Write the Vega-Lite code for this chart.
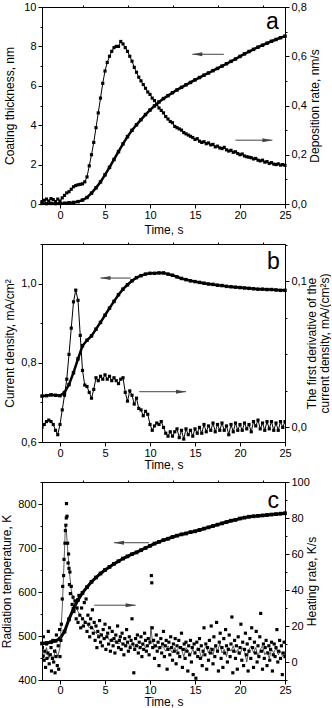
{
  "$schema": "https://vega.github.io/schema/vega-lite/v6.json",
  "padding": 0,
  "autosize": {"type": "pad"},
  "bounds": "flush",
  "spacing": 40,
  "config": {
    "locale": {"number": {"decimal": ",", "thousands": ".", "grouping": [3], "currency": ["", ""]}},
    "font": "Liberation Sans",
    "view": {"stroke": "black", "strokeWidth": 1},
    "axis": {
      "grid": false, "domainColor": "black", "tickColor": "black", "labelColor": "black", "titleColor": "black",
      "labelFont": "Liberation Sans", "titleFont": "Liberation Sans", "labelFontSize": 11, "titleFontSize": 12,
      "titleFontWeight": "normal", "labelFlush": false, "labelOverlap": false, "labelBound": false, "labelPadding": 2, "tickSize": 4, "titlePadding": 3, "titleLineHeight": 12.5
    }
  },
  "datasets": {
    "thickA": [
      {"t":-2,"v":0.03},{"t":-1.5,"v":0.02},{"t":-1,"v":0.03},{"t":-0.5,"v":0.02},{"t":0,"v":0.03},{"t":0.5,"v":0.04},{"t":1,"v":0.06},{"t":1.5,"v":0.08},{"t":2,"v":0.12},{"t":2.5,"v":0.2},{"t":3,"v":0.33},{"t":3.5,"v":0.55},{"t":4,"v":0.82},{"t":4.5,"v":1.12},{"t":5,"v":1.48},{"t":5.5,"v":1.86},{"t":6,"v":2.26},{"t":6.5,"v":2.66},{"t":7,"v":3.05},{"t":7.5,"v":3.42},{"t":8,"v":3.74},{"t":8.5,"v":4.02},{"t":9,"v":4.28},{"t":9.5,"v":4.54},{"t":10,"v":4.77},{"t":10.5,"v":4.98},{"t":11,"v":5.18},{"t":11.5,"v":5.35},{"t":12,"v":5.5},{"t":12.5,"v":5.65},{"t":13,"v":5.79},{"t":13.5,"v":5.92},{"t":14,"v":6.05},{"t":14.5,"v":6.17},{"t":15,"v":6.3},{"t":15.5,"v":6.42},{"t":16,"v":6.54},{"t":16.5,"v":6.65},{"t":17,"v":6.77},{"t":17.5,"v":6.88},{"t":18,"v":7.0},{"t":18.5,"v":7.12},{"t":19,"v":7.24},{"t":19.5,"v":7.36},{"t":20,"v":7.49},{"t":20.5,"v":7.62},{"t":21,"v":7.74},{"t":21.5,"v":7.85},{"t":22,"v":7.96},{"t":22.5,"v":8.06},{"t":23,"v":8.16},{"t":23.5,"v":8.26},{"t":24,"v":8.35},{"t":24.5,"v":8.44},{"t":25,"v":8.52}
    ],
    "rateA": [
      {"t":-2,"v":0.01},{"t":-1.75,"v":0.015},{"t":-1.5,"v":0.02},{"t":-1.25,"v":0.012},{"t":-1,"v":0.022},{"t":-0.75,"v":0.018},{"t":-0.5,"v":0.01},{"t":-0.25,"v":0.02},{"t":0,"v":0.012},{"t":0.25,"v":0.025},{"t":0.5,"v":0.035},{"t":0.75,"v":0.045},{"t":1,"v":0.05},{"t":1.25,"v":0.06},{"t":1.5,"v":0.07},{"t":1.75,"v":0.075},{"t":2,"v":0.078},{"t":2.25,"v":0.08},{"t":2.5,"v":0.082},{"t":2.75,"v":0.09},{"t":3,"v":0.11},{"t":3.25,"v":0.155},{"t":3.5,"v":0.2},{"t":3.75,"v":0.25},{"t":4,"v":0.31},{"t":4.25,"v":0.37},{"t":4.5,"v":0.43},{"t":4.75,"v":0.49},{"t":5,"v":0.54},{"t":5.25,"v":0.575},{"t":5.5,"v":0.6},{"t":5.75,"v":0.62},{"t":6,"v":0.635},{"t":6.25,"v":0.64},{"t":6.5,"v":0.64},{"t":6.75,"v":0.66},{"t":7,"v":0.65},{"t":7.25,"v":0.635},{"t":7.5,"v":0.62},{"t":7.75,"v":0.6},{"t":8,"v":0.58},{"t":8.25,"v":0.555},{"t":8.5,"v":0.535},{"t":8.75,"v":0.515},{"t":9,"v":0.5},{"t":9.25,"v":0.485},{"t":9.5,"v":0.47},{"t":9.75,"v":0.455},{"t":10,"v":0.445},{"t":10.25,"v":0.43},{"t":10.5,"v":0.42},{"t":10.75,"v":0.405},{"t":11,"v":0.39},{"t":11.25,"v":0.38},{"t":11.5,"v":0.37},{"t":11.75,"v":0.355},{"t":12,"v":0.345},{"t":12.25,"v":0.335},{"t":12.5,"v":0.33},{"t":12.75,"v":0.315},{"t":13,"v":0.31},{"t":13.25,"v":0.305},{"t":13.5,"v":0.3},{"t":13.75,"v":0.29},{"t":14,"v":0.285},{"t":14.25,"v":0.28},{"t":14.5,"v":0.275},{"t":14.75,"v":0.27},{"t":15,"v":0.262},{"t":15.25,"v":0.265},{"t":15.5,"v":0.255},{"t":15.75,"v":0.25},{"t":16,"v":0.253},{"t":16.25,"v":0.245},{"t":16.5,"v":0.248},{"t":16.75,"v":0.24},{"t":17,"v":0.242},{"t":17.25,"v":0.232},{"t":17.5,"v":0.235},{"t":17.75,"v":0.228},{"t":18,"v":0.225},{"t":18.25,"v":0.23},{"t":18.5,"v":0.22},{"t":18.75,"v":0.215},{"t":19,"v":0.218},{"t":19.25,"v":0.21},{"t":19.5,"v":0.212},{"t":19.75,"v":0.205},{"t":20,"v":0.2},{"t":20.25,"v":0.203},{"t":20.5,"v":0.195},{"t":20.75,"v":0.192},{"t":21,"v":0.19},{"t":21.25,"v":0.188},{"t":21.5,"v":0.183},{"t":21.75,"v":0.185},{"t":22,"v":0.178},{"t":22.25,"v":0.175},{"t":22.5,"v":0.178},{"t":22.75,"v":0.17},{"t":23,"v":0.172},{"t":23.25,"v":0.165},{"t":23.5,"v":0.168},{"t":23.75,"v":0.162},{"t":24,"v":0.16},{"t":24.25,"v":0.163},{"t":24.5,"v":0.158},{"t":24.75,"v":0.16},{"t":25,"v":0.157}
    ],
    "arrA": [{"t":14.7,"t2":18.2,"v":7.6,"h":14.7,"dir":"L"},{"t":19.5,"t2":23.6,"v":3.24,"h":23.6,"dir":"R"}],
    "labA": [{"t":23.6,"v":9.24,"lab":"a"}],
    "cdB": [
      {"t":-2,"v":0.716},{"t":-1.5,"v":0.717},{"t":-1,"v":0.719},{"t":-0.5,"v":0.718},{"t":0,"v":0.717},{"t":0.5,"v":0.725},{"t":1,"v":0.745},{"t":1.5,"v":0.775},{"t":2,"v":0.81},{"t":2.5,"v":0.843},{"t":3,"v":0.857},{"t":3.5,"v":0.868},{"t":4,"v":0.885},{"t":4.5,"v":0.902},{"t":5,"v":0.92},{"t":5.5,"v":0.938},{"t":6,"v":0.955},{"t":6.5,"v":0.972},{"t":7,"v":0.986},{"t":7.5,"v":0.997},{"t":8,"v":1.007},{"t":8.5,"v":1.015},{"t":9,"v":1.02},{"t":9.5,"v":1.024},{"t":10,"v":1.026},{"t":10.5,"v":1.026},{"t":11,"v":1.027},{"t":11.5,"v":1.027},{"t":12,"v":1.024},{"t":12.5,"v":1.021},{"t":13,"v":1.017},{"t":13.5,"v":1.013},{"t":14,"v":1.01},{"t":14.5,"v":1.007},{"t":15,"v":1.005},{"t":15.5,"v":1.003},{"t":16,"v":1.001},{"t":16.5,"v":0.999},{"t":17,"v":0.998},{"t":17.5,"v":0.996},{"t":18,"v":0.995},{"t":18.5,"v":0.993},{"t":19,"v":0.992},{"t":19.5,"v":0.991},{"t":20,"v":0.99},{"t":20.5,"v":0.989},{"t":21,"v":0.988},{"t":21.5,"v":0.987},{"t":22,"v":0.986},{"t":22.5,"v":0.986},{"t":23,"v":0.985},{"t":23.5,"v":0.985},{"t":24,"v":0.984},{"t":24.5,"v":0.983},{"t":25,"v":0.983}
    ],
    "derB": [
      {"t":-2,"v":0.0},{"t":-1.75,"v":0.002},{"t":-1.5,"v":0.004},{"t":-1.25,"v":0.005},{"t":-1,"v":0.004},{"t":-0.75,"v":0.002},{"t":-0.5,"v":-0.002},{"t":-0.25,"v":-0.005},{"t":0,"v":0.002},{"t":0.25,"v":0.012},{"t":0.5,"v":0.022},{"t":0.75,"v":0.033},{"t":1,"v":0.05},{"t":1.25,"v":0.068},{"t":1.5,"v":0.086},{"t":1.75,"v":0.094},{"t":2,"v":0.087},{"t":2.25,"v":0.063},{"t":2.5,"v":0.039},{"t":2.75,"v":0.029},{"t":3,"v":0.028},{"t":3.25,"v":0.024},{"t":3.5,"v":0.02},{"t":3.75,"v":0.026},{"t":4,"v":0.034},{"t":4.25,"v":0.032},{"t":4.5,"v":0.035},{"t":4.75,"v":0.033},{"t":5,"v":0.036},{"t":5.25,"v":0.033},{"t":5.5,"v":0.035},{"t":5.75,"v":0.032},{"t":6,"v":0.034},{"t":6.25,"v":0.032},{"t":6.5,"v":0.03},{"t":6.75,"v":0.033},{"t":7,"v":0.034},{"t":7.25,"v":0.024},{"t":7.5,"v":0.018},{"t":7.75,"v":0.025},{"t":8,"v":0.022},{"t":8.25,"v":0.016},{"t":8.5,"v":0.02},{"t":8.75,"v":0.013},{"t":9,"v":0.012},{"t":9.25,"v":0.008},{"t":9.5,"v":0.011},{"t":9.75,"v":0.009},{"t":10,"v":0.002},{"t":10.25,"v":-0.002},{"t":10.5,"v":0.001},{"t":10.75,"v":0.003},{"t":11,"v":0.002},{"t":11.25,"v":0.004},{"t":11.5,"v":0.0},{"t":11.75,"v":-0.004},{"t":12,"v":-0.006},{"t":12.25,"v":-0.003},{"t":12.5,"v":-0.006},{"t":12.75,"v":-0.003},{"t":13,"v":-0.001},{"t":13.25,"v":-0.007},{"t":13.5,"v":-0.002},{"t":13.75,"v":-0.008},{"t":14,"v":-0.001},{"t":14.25,"v":-0.005},{"t":14.5,"v":-0.002},{"t":14.75,"v":-0.006},{"t":15,"v":-0.001},{"t":15.25,"v":-0.004},{"t":15.5,"v":0.0},{"t":15.75,"v":-0.004},{"t":16,"v":0.002},{"t":16.25,"v":-0.003},{"t":16.5,"v":0.001},{"t":16.75,"v":-0.002},{"t":17,"v":0.003},{"t":17.25,"v":-0.003},{"t":17.5,"v":0.002},{"t":17.75,"v":-0.002},{"t":18,"v":0.003},{"t":18.25,"v":-0.002},{"t":18.5,"v":0.001},{"t":18.75,"v":-0.005},{"t":19,"v":0.002},{"t":19.25,"v":-0.003},{"t":19.5,"v":0.003},{"t":19.75,"v":-0.002},{"t":20,"v":0.002},{"t":20.25,"v":-0.002},{"t":20.5,"v":0.003},{"t":20.75,"v":-0.001},{"t":21,"v":0.002},{"t":21.25,"v":-0.003},{"t":21.5,"v":0.004},{"t":21.75,"v":0.001},{"t":22,"v":0.005},{"t":22.25,"v":-0.001},{"t":22.5,"v":0.003},{"t":22.75,"v":-0.002},{"t":23,"v":0.004},{"t":23.25,"v":-0.001},{"t":23.5,"v":0.004},{"t":23.75,"v":-0.002},{"t":24,"v":0.003},{"t":24.25,"v":-0.002},{"t":24.5,"v":0.004},{"t":24.75,"v":0.0},{"t":25,"v":0.004}
    ],
    "arrB": [{"t":4.5,"t2":7.85,"v":1.014,"h":4.5,"dir":"L"},{"t":8.8,"t2":14,"v":0.727,"h":14,"dir":"R"}],
    "labB": [{"t":23.7,"v":1.054,"lab":"b"}],
    "tempC": [
      {"t":-2,"v":483},{"t":-1.5,"v":484},{"t":-1,"v":486},{"t":-0.5,"v":489},{"t":0,"v":494},{"t":0.5,"v":510},{"t":1,"v":538},{"t":1.5,"v":562},{"t":2,"v":582},{"t":2.5,"v":598},{"t":3,"v":611},{"t":3.5,"v":623},{"t":4,"v":633},{"t":4.5,"v":642},{"t":5,"v":650},{"t":5.5,"v":657},{"t":6,"v":664},{"t":6.5,"v":670},{"t":7,"v":676},{"t":7.5,"v":681},{"t":8,"v":686},{"t":8.5,"v":690},{"t":9,"v":695},{"t":9.5,"v":700},{"t":10,"v":705},{"t":10.5,"v":710},{"t":11,"v":714},{"t":11.5,"v":718},{"t":12,"v":721},{"t":12.5,"v":725},{"t":13,"v":728},{"t":13.5,"v":731},{"t":14,"v":733},{"t":14.5,"v":736},{"t":15,"v":738},{"t":15.5,"v":741},{"t":16,"v":744},{"t":16.5,"v":747},{"t":17,"v":750},{"t":17.5,"v":753},{"t":18,"v":756},{"t":18.5,"v":759},{"t":19,"v":762},{"t":19.5,"v":764},{"t":20,"v":767},{"t":20.5,"v":769},{"t":21,"v":771},{"t":21.5,"v":772},{"t":22,"v":773},{"t":22.5,"v":774},{"t":23,"v":775},{"t":23.5,"v":776},{"t":24,"v":777},{"t":24.5,"v":778},{"t":25,"v":779}
    ],
    "hrPtsC": [
      {"t":-1.95,"v":8},{"t":-1.9,"v":3},{"t":-1.85,"v":14},{"t":-1.75,"v":1},{"t":-1.7,"v":6},{"t":-1.6,"v":-3},{"t":-1.5,"v":10},{"t":-1.45,"v":2},{"t":-1.35,"v":5},{"t":-1.3,"v":17},{"t":-1.2,"v":-1},{"t":-1.1,"v":4},{"t":-1.0,"v":8},{"t":-0.95,"v":-5},{"t":-0.85,"v":2},{"t":-0.8,"v":12},{"t":-0.7,"v":0},{"t":-0.6,"v":6},{"t":-0.55,"v":-6},{"t":-0.45,"v":3},{"t":-0.4,"v":15},{"t":-0.3,"v":-2},{"t":-0.2,"v":9},{"t":-0.15,"v":-4},{"t":-0.05,"v":18},{"t":0.0,"v":3},
      {"t":0.1,"v":12},{"t":0.15,"v":21},{"t":0.25,"v":35},{"t":0.3,"v":42},{"t":0.4,"v":48},{"t":0.45,"v":57},{"t":0.55,"v":66},{"t":0.6,"v":73},{"t":0.65,"v":76},{"t":0.7,"v":80},{"t":0.72,"v":88},{"t":0.78,"v":81},{"t":0.85,"v":66},{"t":0.9,"v":55},{"t":0.95,"v":60},{"t":1.0,"v":52},{"t":1.05,"v":43},{"t":1.1,"v":50},{"t":1.15,"v":38},{"t":1.25,"v":42},{"t":1.35,"v":32},{"t":1.45,"v":36},{"t":1.55,"v":28},{"t":1.7,"v":34},{"t":1.8,"v":24},{"t":1.9,"v":30},{"t":2.0,"v":22},{"t":2.1,"v":37},{"t":2.2,"v":26},{"t":2.3,"v":19},{"t":2.4,"v":30},{"t":2.5,"v":24},{"t":2.6,"v":20},{"t":2.7,"v":33},{"t":2.8,"v":22},{"t":2.9,"v":35},{"t":3.0,"v":17},{"t":3.1,"v":26},{"t":3.2,"v":21},{"t":3.3,"v":14},{"t":3.4,"v":24},{"t":3.5,"v":19},{"t":3.6,"v":29},{"t":3.7,"v":16},{"t":3.8,"v":22},{"t":3.9,"v":12},{"t":4.0,"v":20},{"t":4.1,"v":8},{"t":4.2,"v":17},{"t":4.3,"v":14},{"t":4.4,"v":23},{"t":4.5,"v":11},{"t":4.6,"v":15},{"t":4.7,"v":9},{"t":4.8,"v":18},{"t":4.9,"v":13},{"t":5.0,"v":21},{"t":5.1,"v":7},{"t":5.2,"v":14},{"t":5.3,"v":16},{"t":5.4,"v":10},{"t":5.5,"v":19},{"t":5.6,"v":6},{"t":5.7,"v":12},{"t":5.8,"v":17},{"t":5.9,"v":9},{"t":6.0,"v":13},{"t":6.1,"v":5},{"t":6.2,"v":15},{"t":6.3,"v":11},{"t":6.4,"v":20},{"t":6.5,"v":8},{"t":6.6,"v":12},{"t":6.7,"v":14},{"t":6.8,"v":7},{"t":6.9,"v":16},{"t":7.0,"v":10},{"t":7.1,"v":4},{"t":7.2,"v":13},{"t":7.3,"v":9},{"t":7.4,"v":18},{"t":7.5,"v":11},{"t":7.6,"v":6},{"t":7.7,"v":14},{"t":7.8,"v":8},{"t":7.9,"v":12},{"t":8.0,"v":24},{"t":8.1,"v":10},{"t":8.2,"v":-6},{"t":8.3,"v":7},{"t":8.4,"v":13},{"t":8.5,"v":9},{"t":8.6,"v":15},{"t":8.7,"v":5},{"t":8.8,"v":11},{"t":8.9,"v":8},{"t":9.0,"v":14},{"t":9.1,"v":3},{"t":9.2,"v":10},{"t":9.3,"v":7},{"t":9.4,"v":16},{"t":9.5,"v":12},{"t":9.6,"v":6},{"t":9.7,"v":9},{"t":9.8,"v":13},{"t":9.9,"v":4},{"t":10.0,"v":11},{"t":10.15,"v":48},{"t":10.2,"v":44},{"t":10.25,"v":19},{"t":10.3,"v":8},{"t":10.4,"v":12},{"t":10.5,"v":2},{"t":10.6,"v":9},{"t":10.7,"v":15},{"t":10.8,"v":6},{"t":10.9,"v":11},{"t":11.0,"v":-2},{"t":11.1,"v":8},{"t":11.2,"v":13},{"t":11.3,"v":5},{"t":11.4,"v":10},{"t":11.5,"v":17},{"t":11.6,"v":3},{"t":11.7,"v":9},{"t":11.8,"v":12},{"t":11.9,"v":-4},{"t":12.0,"v":7},{"t":12.1,"v":11},{"t":12.2,"v":4},{"t":12.3,"v":14},{"t":12.4,"v":8},{"t":12.5,"v":1},{"t":12.6,"v":10},{"t":12.7,"v":6},{"t":12.8,"v":13},{"t":12.9,"v":-1},{"t":13.0,"v":9},{"t":13.1,"v":5},{"t":13.2,"v":12},{"t":13.3,"v":3},{"t":13.4,"v":8},{"t":13.5,"v":16},{"t":13.6,"v":-3},{"t":13.7,"v":7},{"t":13.8,"v":10},{"t":13.9,"v":2},{"t":14.0,"v":11},{"t":14.1,"v":6},{"t":14.2,"v":-5},{"t":14.3,"v":9},{"t":14.4,"v":4},{"t":14.5,"v":12},{"t":14.6,"v":0},{"t":14.7,"v":8},{"t":14.8,"v":-7},{"t":14.9,"v":10},{"t":15.0,"v":5},{"t":15.1,"v":-9},{"t":15.2,"v":11},{"t":15.3,"v":3},{"t":15.4,"v":7},{"t":15.5,"v":13},{"t":15.6,"v":2},{"t":15.7,"v":9},{"t":15.8,"v":-2},{"t":15.9,"v":6},{"t":16.0,"v":19},{"t":16.1,"v":4},{"t":16.2,"v":10},{"t":16.3,"v":-4},{"t":16.4,"v":8},{"t":16.5,"v":1},{"t":16.6,"v":12},{"t":16.7,"v":5},{"t":16.8,"v":20},{"t":16.9,"v":7},{"t":17.0,"v":-1},{"t":17.1,"v":14},{"t":17.2,"v":3},{"t":17.3,"v":9},{"t":17.4,"v":22},{"t":17.5,"v":6},{"t":17.6,"v":-5},{"t":17.7,"v":11},{"t":17.8,"v":16},{"t":17.9,"v":2},{"t":18.0,"v":8},{"t":18.1,"v":-3},{"t":18.2,"v":13},{"t":18.3,"v":5},{"t":18.4,"v":18},{"t":18.5,"v":9},{"t":18.6,"v":0},{"t":18.7,"v":7},{"t":18.8,"v":15},{"t":18.9,"v":3},{"t":19.0,"v":10},{"t":19.1,"v":25},{"t":19.2,"v":-6},{"t":19.3,"v":6},{"t":19.4,"v":12},{"t":19.5,"v":2},{"t":19.6,"v":9},{"t":19.7,"v":-4},{"t":19.8,"v":14},{"t":19.9,"v":5},{"t":20.0,"v":8},{"t":20.1,"v":21},{"t":20.2,"v":1},{"t":20.3,"v":11},{"t":20.4,"v":-2},{"t":20.5,"v":7},{"t":20.6,"v":16},{"t":20.7,"v":4},{"t":20.8,"v":10},{"t":20.9,"v":-5},{"t":21.0,"v":6},{"t":21.1,"v":13},{"t":21.2,"v":2},{"t":21.3,"v":19},{"t":21.4,"v":8},{"t":21.5,"v":-3},{"t":21.6,"v":11},{"t":21.7,"v":5},{"t":21.8,"v":17},{"t":21.9,"v":0},{"t":22.0,"v":9},{"t":22.1,"v":3},{"t":22.2,"v":14},{"t":22.3,"v":27},{"t":22.4,"v":6},{"t":22.5,"v":-4},{"t":22.6,"v":10},{"t":22.7,"v":2},{"t":22.8,"v":8},{"t":22.9,"v":12},{"t":23.0,"v":-2},{"t":23.1,"v":5},{"t":23.2,"v":9},{"t":23.3,"v":1},{"t":23.4,"v":7},{"t":23.5,"v":11},{"t":23.6,"v":-5},{"t":23.7,"v":4},{"t":23.8,"v":10},{"t":23.9,"v":3},{"t":24.0,"v":8},{"t":24.1,"v":18},{"t":24.2,"v":0},{"t":24.3,"v":6},{"t":24.4,"v":12},{"t":24.5,"v":2},{"t":24.6,"v":9},{"t":24.7,"v":-7},{"t":24.8,"v":5},{"t":24.9,"v":11},{"t":25.0,"v":3}
    ],
    "hrLineC": [
      {"t":-2,"v":6},{"t":-1.75,"v":3},{"t":-1.5,"v":8},{"t":-1.25,"v":2},{"t":-1,"v":5},{"t":-0.75,"v":1},{"t":-0.5,"v":7},{"t":-0.25,"v":3},{"t":0,"v":8},{"t":0.25,"v":30},{"t":0.5,"v":62},{"t":0.6,"v":76},{"t":0.75,"v":70},{"t":1,"v":52},{"t":1.25,"v":40},{"t":1.5,"v":34},{"t":1.75,"v":31},{"t":2,"v":28},{"t":2.25,"v":26},{"t":2.5,"v":24},{"t":2.75,"v":23},{"t":3,"v":21},{"t":3.25,"v":19},{"t":3.5,"v":20},{"t":3.75,"v":18},{"t":4,"v":16},{"t":4.25,"v":15},{"t":4.5,"v":16},{"t":4.75,"v":14},{"t":5,"v":13},{"t":5.25,"v":14},{"t":5.5,"v":12},{"t":5.75,"v":13},{"t":6,"v":11},{"t":6.25,"v":12},{"t":6.5,"v":10},{"t":6.75,"v":11},{"t":7,"v":10},{"t":7.25,"v":9},{"t":7.5,"v":11},{"t":7.75,"v":9},{"t":8,"v":10},{"t":8.25,"v":8},{"t":8.5,"v":10},{"t":8.75,"v":9},{"t":9,"v":8},{"t":9.25,"v":10},{"t":9.5,"v":8},{"t":9.75,"v":9},{"t":10,"v":10},{"t":10.1,"v":20},{"t":10.25,"v":12},{"t":10.5,"v":8},{"t":10.75,"v":9},{"t":11,"v":7},{"t":11.25,"v":9},{"t":11.5,"v":8},{"t":11.75,"v":6},{"t":12,"v":9},{"t":12.25,"v":7},{"t":12.5,"v":5},{"t":12.75,"v":8},{"t":13,"v":6},{"t":13.25,"v":9},{"t":13.5,"v":7},{"t":13.75,"v":3},{"t":14,"v":8},{"t":14.25,"v":6},{"t":14.5,"v":4},{"t":14.75,"v":7},{"t":15,"v":5},{"t":15.25,"v":8},{"t":15.5,"v":6},{"t":15.75,"v":2},{"t":16,"v":7},{"t":16.25,"v":9},{"t":16.5,"v":5},{"t":16.75,"v":8},{"t":17,"v":4},{"t":17.25,"v":9},{"t":17.5,"v":6},{"t":17.75,"v":10},{"t":18,"v":5},{"t":18.25,"v":7},{"t":18.5,"v":3},{"t":18.75,"v":8},{"t":19,"v":6},{"t":19.25,"v":9},{"t":19.5,"v":5},{"t":19.75,"v":7},{"t":20,"v":4},{"t":20.25,"v":8},{"t":20.5,"v":6},{"t":20.75,"v":0},{"t":21,"v":7},{"t":21.25,"v":9},{"t":21.5,"v":5},{"t":21.75,"v":8},{"t":22,"v":3},{"t":22.25,"v":7},{"t":22.5,"v":9},{"t":22.75,"v":4},{"t":23,"v":6},{"t":23.25,"v":2},{"t":23.5,"v":7},{"t":23.75,"v":5},{"t":24,"v":8},{"t":24.25,"v":4},{"t":24.5,"v":6},{"t":24.75,"v":3},{"t":25,"v":5}
    ],
    "arrC": [{"t":6,"t2":9.9,"v":712,"h":6,"dir":"L"},{"t":3.8,"t2":8.4,"v":570,"h":8.4,"dir":"R"}],
    "labC": [{"t":23.7,"v":807,"lab":"c"}]
  },
  "vconcat": [
    {
      "width": 243, "height": 197,
      "resolve": {"scale": {"y": "independent"}, "axis": {"x": "independent", "y": "independent"}},
      "layer": [
        {"resolve": {"axis": {"x": "independent", "y": "independent"}},
         "layer": [
          {"data": {"name": "thickA"},
           "mark": {"type": "line", "color": "black", "strokeWidth": 2.5, "point": {"shape": "square", "size": 12, "filled": true, "color": "black"}},
           "encoding": {
             "x": {"field": "t", "type": "quantitative", "scale": {"domain": [-2, 25], "nice": false, "zero": false},
                   "axis": {"title": "Time, s", "titlePadding": 4, "labelPadding": 1, "values": [0,5,10,15,20,25], "format": "d"}},
             "y": {"field": "v", "type": "quantitative", "scale": {"domain": [0, 10], "nice": false, "zero": false},
                   "axis": {"title": "Coating thickness, nm", "orient": "left", "titlePadding": 7, "values": [0,2,4,6,8,10], "format": "d"}}
           }},
          {"data": {"name": "arrA"}, "mark": {"type": "rule", "color": "#444", "strokeWidth": 1},
           "encoding": {"x": {"field": "t", "type": "quantitative", "axis": {"title": null, "labels": false, "domain": false, "tickSize": 2, "values": [2.5,7.5,12.5,17.5,22.5]}}, "x2": {"field": "t2"},
                        "y": {"field": "v", "type": "quantitative", "axis": {"title": null, "labels": false, "domain": false, "tickSize": 2, "orient": "left", "values": [1,3,5,7,9]}}}},
          {"data": {"name": "arrA"}, "mark": {"type": "point", "filled": true, "color": "#444", "opacity": 1, "size": 25},
           "encoding": {"x": {"field": "h", "type": "quantitative", "axis": null}, "y": {"field": "v", "type": "quantitative", "axis": null},
             "shape": {"field": "dir", "type": "nominal", "legend": null, "scale": {"domain": ["L", "R"], "range": ["M0,0L4,-0.8L4,0.8Z", "M0,0L-4,-0.8L-4,0.8Z"]}}}},
          {"data": {"name": "labA"}, "mark": {"type": "text", "fontSize": 23, "font": "Liberation Sans", "color": "black", "baseline": "middle", "align": "center"},
           "encoding": {"x": {"field": "t", "type": "quantitative", "axis": null}, "y": {"field": "v", "type": "quantitative", "axis": null}, "text": {"field": "lab"}}}
        ]},
        {"resolve": {"axis": {"x": "independent", "y": "independent"}},
         "layer": [
          {"data": {"name": "rateA"},
           "mark": {"type": "line", "color": "black", "strokeWidth": 1},
           "encoding": {
             "x": {"field": "t", "type": "quantitative", "scale": {"domain": [-2, 25], "nice": false, "zero": false}, "axis": null},
             "y": {"field": "v", "type": "quantitative", "scale": {"domain": [0, 0.8], "nice": false, "zero": false},
                   "axis": {"title": "Deposition rate, nm/s", "orient": "right", "titleAngle": 270, "titleBaseline": "top", "titlePadding": 3, "values": [0,0.2,0.4,0.6,0.8], "format": ".1f"}}
           }},
          {"data": {"name": "rateA"},
           "mark": {"type": "square", "size": 10, "color": "black", "opacity": 1},
           "encoding": {
             "x": {"field": "t", "type": "quantitative", "scale": {"domain": [-2, 25], "nice": false, "zero": false}, "axis": null},
             "y": {"field": "v", "type": "quantitative", "scale": {"domain": [0, 0.8], "nice": false, "zero": false},
                   "axis": {"title": null, "labels": false, "domain": false, "tickSize": 2, "orient": "right", "values": [0.1,0.3,0.5,0.7]}}
           }}
        ]}
      ]
    },
    {
      "width": 243, "height": 198,
      "resolve": {"scale": {"y": "independent"}, "axis": {"x": "independent", "y": "independent"}},
      "layer": [
        {"resolve": {"axis": {"x": "independent", "y": "independent"}},
         "layer": [
          {"data": {"name": "cdB"},
           "mark": {"type": "line", "color": "black", "strokeWidth": 2.5, "point": {"shape": "square", "size": 12, "filled": true, "color": "black"}},
           "encoding": {
             "x": {"field": "t", "type": "quantitative", "scale": {"domain": [-2, 25], "nice": false, "zero": false},
                   "axis": {"title": "Time, s", "titlePadding": 1, "labelPadding": 1, "values": [0,5,10,15,20,25], "format": "d"}},
             "y": {"field": "v", "type": "quantitative", "scale": {"domain": [0.6, 1.1], "nice": false, "zero": false},
                   "axis": {"title": "Current density, mA/cm²", "orient": "left", "titlePadding": 4, "values": [0.6,0.8,1.0], "format": ".1f"}}
           }},
          {"data": {"name": "arrB"}, "mark": {"type": "rule", "color": "#444", "strokeWidth": 1},
           "encoding": {"x": {"field": "t", "type": "quantitative", "axis": {"title": null, "labels": false, "domain": false, "tickSize": 2, "values": [2.5,7.5,12.5,17.5,22.5]}}, "x2": {"field": "t2"},
                        "y": {"field": "v", "type": "quantitative", "axis": {"title": null, "labels": false, "domain": false, "tickSize": 2, "orient": "left", "values": [0.7,0.9,1.1]}}}},
          {"data": {"name": "arrB"}, "mark": {"type": "point", "filled": true, "color": "#444", "opacity": 1, "size": 25},
           "encoding": {"x": {"field": "h", "type": "quantitative", "axis": null}, "y": {"field": "v", "type": "quantitative", "axis": null},
             "shape": {"field": "dir", "type": "nominal", "legend": null, "scale": {"domain": ["L", "R"], "range": ["M0,0L4,-0.8L4,0.8Z", "M0,0L-4,-0.8L-4,0.8Z"]}}}},
          {"data": {"name": "labB"}, "mark": {"type": "text", "fontSize": 23, "font": "Liberation Sans", "color": "black", "baseline": "middle", "align": "center"},
           "encoding": {"x": {"field": "t", "type": "quantitative", "axis": null}, "y": {"field": "v", "type": "quantitative", "axis": null}, "text": {"field": "lab"}}}
        ]},
        {"resolve": {"axis": {"x": "independent", "y": "independent"}},
         "layer": [
          {"data": {"name": "derB"},
           "mark": {"type": "line", "color": "black", "strokeWidth": 1, "clip": true},
           "encoding": {
             "x": {"field": "t", "type": "quantitative", "scale": {"domain": [-2, 25], "nice": false, "zero": false}, "axis": null},
             "y": {"field": "v", "type": "quantitative", "scale": {"domain": [-0.01, 0.1256], "nice": false, "zero": false},
                   "axis": {"title": ["The first derivative of the", "current density, mA/(cm²s)"], "orient": "right", "titleAngle": 270, "titleBaseline": "top", "titleX": 21.5, "titleY": 99, "values": [0,0.1], "format": ".1f"}}
           }},
          {"data": {"name": "derB"},
           "mark": {"type": "square", "size": 10, "color": "black", "opacity": 1, "clip": true},
           "encoding": {
             "x": {"field": "t", "type": "quantitative", "scale": {"domain": [-2, 25], "nice": false, "zero": false}, "axis": null},
             "y": {"field": "v", "type": "quantitative", "scale": {"domain": [-0.01, 0.1256], "nice": false, "zero": false},
                   "axis": {"title": null, "labels": false, "domain": false, "tickSize": 2, "orient": "right", "values": [0.025,0.05,0.075,0.125]}}
           }}
        ]}
      ]
    },
    {
      "width": 243, "height": 198,
      "resolve": {"scale": {"y": "independent"}, "axis": {"x": "independent", "y": "independent"}},
      "layer": [
        {"resolve": {"axis": {"x": "independent", "y": "independent"}},
         "layer": [
          {"data": {"name": "tempC"},
           "mark": {"type": "line", "color": "black", "strokeWidth": 3, "point": {"shape": "square", "size": 14, "filled": true, "color": "black"}},
           "encoding": {
             "x": {"field": "t", "type": "quantitative", "scale": {"domain": [-2, 25], "nice": false, "zero": false},
                   "axis": {"title": "Time, s", "titlePadding": 1.5, "labelPadding": 0, "values": [0,5,10,15,20,25], "format": "d"}},
             "y": {"field": "v", "type": "quantitative", "scale": {"domain": [400, 850], "nice": false, "zero": false},
                   "axis": {"title": "Radiation temperature, K", "orient": "left", "titlePadding": 4, "values": [400,500,600,700,800], "format": "d"}}
           }},
          {"data": {"name": "arrC"}, "mark": {"type": "rule", "color": "#444", "strokeWidth": 1},
           "encoding": {"x": {"field": "t", "type": "quantitative", "axis": {"title": null, "labels": false, "domain": false, "tickSize": 2, "values": [2.5,7.5,12.5,17.5,22.5]}}, "x2": {"field": "t2"},
                        "y": {"field": "v", "type": "quantitative", "axis": {"title": null, "labels": false, "domain": false, "tickSize": 2, "orient": "left", "values": [450,550,650,750,850]}}}},
          {"data": {"name": "arrC"}, "mark": {"type": "point", "filled": true, "color": "#444", "opacity": 1, "size": 25},
           "encoding": {"x": {"field": "h", "type": "quantitative", "axis": null}, "y": {"field": "v", "type": "quantitative", "axis": null},
             "shape": {"field": "dir", "type": "nominal", "legend": null, "scale": {"domain": ["L", "R"], "range": ["M0,0L4,-0.8L4,0.8Z", "M0,0L-4,-0.8L-4,0.8Z"]}}}},
          {"data": {"name": "labC"}, "mark": {"type": "text", "fontSize": 23, "font": "Liberation Sans", "color": "black", "baseline": "middle", "align": "center"},
           "encoding": {"x": {"field": "t", "type": "quantitative", "axis": null}, "y": {"field": "v", "type": "quantitative", "axis": null}, "text": {"field": "lab"}}}
        ]},
        {"resolve": {"axis": {"x": "independent", "y": "independent"}},
         "layer": [
          {"data": {"name": "hrLineC"},
           "mark": {"type": "line", "color": "#333", "strokeWidth": 0.8, "clip": true},
           "encoding": {
             "x": {"field": "t", "type": "quantitative", "scale": {"domain": [-2, 25], "nice": false, "zero": false}, "axis": null},
             "y": {"field": "v", "type": "quantitative", "scale": {"domain": [-10, 100], "nice": false, "zero": false},
                   "axis": {"title": "Heating rate, K/s", "orient": "right", "titleAngle": 270, "titleBaseline": "top", "titlePadding": -3, "values": [0,20,40,60,80,100], "format": "d"}}
           }},
          {"data": {"name": "hrPtsC"},
           "mark": {"type": "square", "size": 10, "color": "black", "opacity": 1, "clip": true},
           "encoding": {
             "x": {"field": "t", "type": "quantitative", "scale": {"domain": [-2, 25], "nice": false, "zero": false}, "axis": null},
             "y": {"field": "v", "type": "quantitative", "scale": {"domain": [-10, 100], "nice": false, "zero": false},
                   "axis": {"title": null, "labels": false, "domain": false, "tickSize": 2, "orient": "right", "values": [-10,10,30,50,70,90]}}
           }}
        ]}
      ]
    }
  ]
}
